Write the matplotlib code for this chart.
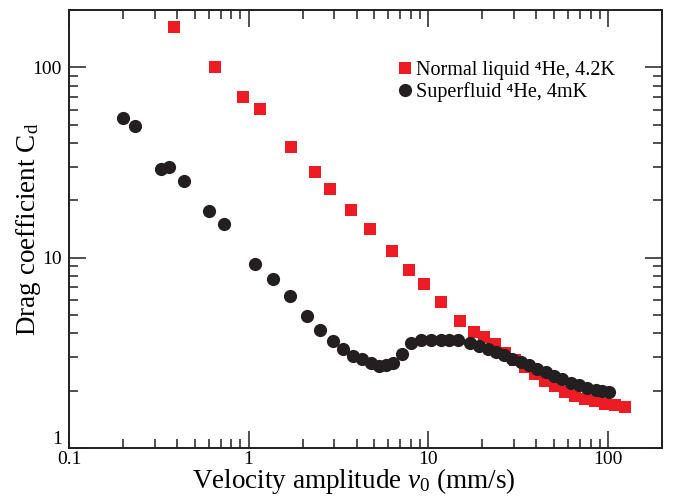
import numpy as np
import matplotlib
matplotlib.use('Agg')
import matplotlib.pyplot as plt
from matplotlib.ticker import LogLocator, NullFormatter

# drag coefficient of the oscillating body vs velocity amplitude
v_normal = [0.383, 0.647, 0.926, 1.15, 1.73, 2.33, 2.85, 3.69, 4.76, 6.31,
            7.84, 9.5, 11.7, 15.1, 18.0, 20.5, 23.6, 26.8, 30.4, 34.6,
            39.3, 44.7, 50.8, 57.7, 65.6, 74.5, 84.7, 96.2, 109, 124]
cd_normal = [163, 100, 70, 60.5, 38.2, 28.2, 22.9, 17.8, 14.1, 10.8,
             8.6, 7.26, 5.83, 4.63, 4.08, 3.84, 3.51, 3.14, 2.89, 2.65,
             2.44, 2.25, 2.11, 1.98, 1.88, 1.81, 1.76, 1.71, 1.68, 1.65]

v_super = [0.200, 0.233, 0.324, 0.361, 0.437, 0.599, 0.726, 1.08, 1.36, 1.70,
           2.10, 2.50, 2.94, 3.37, 3.80, 4.26, 4.78, 5.32, 5.82, 6.34,
           7.10, 8.02, 9.11, 10.35, 11.8, 13.1, 14.6, 17.1, 19.2, 21.4,
           23.8, 26.4, 29.4, 32.7, 36.4, 40.5, 45.1, 50.1, 55.7, 62.1,
           69.0, 76.8, 85.5, 93.0, 101.3]
cd_super = [54.0, 49.2, 29.2, 30.0, 25.2, 17.5, 15.0, 9.21, 7.71, 6.30,
            4.96, 4.19, 3.65, 3.31, 3.05, 2.92, 2.78, 2.69, 2.72, 2.79,
            3.11, 3.54, 3.68, 3.71, 3.71, 3.71, 3.68, 3.56, 3.43, 3.33,
            3.19, 3.07, 2.95, 2.83, 2.72, 2.61, 2.51, 2.38, 2.29, 2.19,
            2.13, 2.07, 2.02, 1.99, 1.96]

plt.rcParams['font.family'] = ['Liberation Serif', 'DejaVu Serif']
plt.rcParams['mathtext.fontset'] = 'custom'
plt.rcParams['mathtext.rm'] = 'Liberation Serif'
plt.rcParams['mathtext.it'] = 'Liberation Serif:italic'
plt.rcParams['mathtext.default'] = 'regular'

fig = plt.figure(figsize=(6.73, 4.96), dpi=100)
ax = fig.add_axes([0.1025, 0.0968, 0.8812, 0.883])

ax.plot(v_normal, cd_normal, 's', color='#ed1c24', ms=8, mew=0,
        label='Normal liquid \u2074He, 4.2K', zorder=2)
ax.plot(v_super, cd_super, 'o', color='#231f20', ms=9.5, mew=0,
        label='Superfluid \u2074He, 4mK', zorder=3)

ax.set_xscale('log')
ax.set_yscale('log')
ax.set_xlim(0.1, 200)
ax.set_ylim(1, 200)

ax.set_xticks([0.1, 1, 10, 100], ['0.1', '1', '10', '100'])
ax.set_yticks([1, 10, 100], ['1', '10', '100'])
for axis in (ax.xaxis, ax.yaxis):
    axis.set_minor_locator(LogLocator(base=10, subs=np.arange(2, 10)))
    axis.set_minor_formatter(NullFormatter())

ax.tick_params(which='both', direction='in', top=True, right=True,
               width=1.1, labelsize=14, color='#231f20')
ax.tick_params(which='major', length=12)
ax.tick_params(which='minor', length=6.5)
ax.tick_params(axis='y', pad=5)
ax.tick_params(axis='x', pad=2)
for sp in ax.spines.values():
    sp.set_linewidth(1.4)
    sp.set_color('#231f20')

# lift the bottom "1" so it sits above the "0.1" of the x axis
ax.get_yticklabels()[0].set_va('bottom')

ax.set_xlabel(r'Velocity amplitude $\mathit{v_{0}}$ (mm/s)', fontsize=19.5)
ax.xaxis.set_label_coords(0.48, -0.042)
ax.set_ylabel(r'Drag coefficient C$_{\mathrm{d}}$', fontsize=19.5)
ax.yaxis.set_label_coords(-0.044, 0.5)

ax.legend(loc='upper right', bbox_to_anchor=(0.937, 0.907), frameon=False,
          fontsize=14.5, handlelength=0.6, handletextpad=0.25,
          labelspacing=0.1, borderpad=0)

fig.savefig('out.png', dpi=100)
